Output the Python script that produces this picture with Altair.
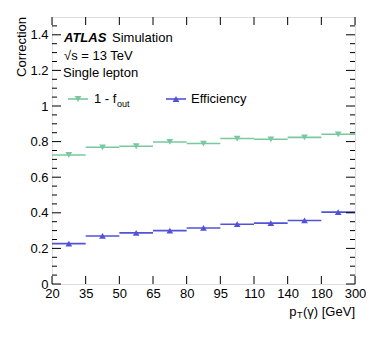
import altair as alt
import pandas as pd

# ---- data ----
edge_labels = ['20', '35', '50', '65', '80', '95', '110', '140', '180', '300']
fout_vals = [0.725, 0.768, 0.774, 0.798, 0.789, 0.817, 0.813, 0.824, 0.841]
eff_vals = [0.227, 0.270, 0.287, 0.300, 0.315, 0.336, 0.342, 0.357, 0.404]
series_names = ['1 - fout', 'Efficiency']
series_colors = ['#78c8a0', '#5252d8']
series_shapes = ['triangle-down', 'triangle-up']
y_major = [0.0, 0.2, 0.4, 0.6, 0.8, 1.0, 1.2, 1.4]
y_minor = [0.05, 0.1, 0.15, 0.25, 0.3, 0.35, 0.45, 0.5, 0.55, 0.65, 0.7, 0.75,
           0.85, 0.9, 0.95, 1.05, 1.1, 1.15, 1.25, 1.3, 1.35, 1.45]

W, H = 303, 267
FONT = 'Liberation Sans'

rows = []
for name, vals in zip(series_names, [fout_vals, eff_vals]):
    for i, v in enumerate(vals):
        rows.append(dict(series=name, lo=i, hi=i + 1, mid=i + 0.5, val=v))
df = pd.DataFrame(rows)

xs = alt.Scale(domain=[0, len(edge_labels) - 1], nice=False, zero=False)
ys = alt.Scale(domain=[0, 1.5], nice=False, zero=False)
label_expr = '[' + ','.join("'%s'" % l for l in edge_labels) + '][datum.value]'
x_axis = alt.Axis(values=list(range(len(edge_labels))), labelExpr=label_expr, ticks=False,
                  domain=False, grid=False, title=None, labelFlush=False, labelOverlap=False,
                  labelFontSize=13, labelColor='black', labelPadding=3, labelFont=FONT)
y_axis = alt.Axis(values=y_major, format='~g', ticks=False, domain=False, grid=False,
                  title=None, labelFontSize=13, labelColor='black', labelPadding=4,
                  labelFont=FONT, labelOverlap=False, labelFlush=False)
color = alt.Color('series:N', scale=alt.Scale(domain=series_names, range=series_colors), legend=None)
shape = alt.Shape('series:N', scale=alt.Scale(domain=series_names, range=series_shapes), legend=None)

base = alt.Chart(df)
segs = base.mark_rule(strokeWidth=1.6).encode(
    x=alt.X('lo:Q', scale=xs, axis=x_axis), x2='hi:Q',
    y=alt.Y('val:Q', scale=ys, axis=y_axis), color=color)
pts = base.mark_point(filled=True, size=45, opacity=1).encode(
    x=alt.X('mid:Q', scale=xs, axis=x_axis),
    y=alt.Y('val:Q', scale=ys, axis=y_axis), color=color, shape=shape)

# inward ticks
xt = pd.DataFrame({'e': list(range(len(edge_labels)))})
yM = pd.DataFrame({'v': y_major})
ym = pd.DataFrame({'v': y_minor})
tick_style = dict(color='black', strokeWidth=1)
xticks_b = alt.Chart(xt).mark_rule(**tick_style).encode(
    x=alt.X('e:Q', scale=xs, axis=x_axis), y=alt.value(H), y2=alt.value(H - 8))
xticks_t = alt.Chart(xt).mark_rule(**tick_style).encode(
    x=alt.X('e:Q', scale=xs, axis=x_axis), y=alt.value(0), y2=alt.value(8))
yt = []
for d, ln in [(yM, 9), (ym, 5)]:
    yt.append(alt.Chart(d).mark_rule(**tick_style).encode(
        y=alt.Y('v:Q', scale=ys, axis=y_axis), x=alt.value(0), x2=alt.value(ln)))
    yt.append(alt.Chart(d).mark_rule(**tick_style).encode(
        y=alt.Y('v:Q', scale=ys, axis=y_axis), x=alt.value(W), x2=alt.value(W - ln)))


def txt(s, x, y, size=13, align='left', baseline='middle', **kw):
    return alt.Chart(pd.DataFrame({'t': [s]})).mark_text(
        align=align, baseline=baseline, fontSize=size, font=FONT, color='black', **kw
    ).encode(x=alt.value(x), y=alt.value(y), text='t:N')


texts = [
    txt('ATLAS', 12, 21, fontWeight='bold', fontStyle='italic'),
    txt('Simulation', 60, 21),
    txt('√s = 13 TeV', 12, 39),
    txt('Single lepton', 11, 56),
    txt('1 - f', 42, 82),
    txt('out', 65, 87, size=9),
    txt('Efficiency', 139, 82),
    txt('(γ) [GeV]', W, 295, align='right'),
    txt('T', 245, 298, size=9),
    txt('p', 244.5, 295, align='right'),
    txt('Correction', -30.5, 0, align='right', angle=270),
]

legend_marks = []
for (x0, x1), c, s in zip([(16, 36), (114, 134)], series_colors, series_shapes):
    legend_marks.append(alt.Chart(pd.DataFrame({'a': [0]})).mark_rule(strokeWidth=1.6, color=c).encode(
        x=alt.value(x0), x2=alt.value(x1), y=alt.value(82)))
    legend_marks.append(alt.Chart(pd.DataFrame({'a': [0]})).mark_point(
        filled=True, size=45, opacity=1, color=c, shape=s).encode(
        x=alt.value((x0 + x1) / 2), y=alt.value(82)))

chart = alt.layer(segs, pts, xticks_b, xticks_t, *yt, *legend_marks, *texts).properties(
    width=W, height=H,
    autosize=alt.AutoSizeParams(type='none'),
    padding={'left': 44, 'top': 9, 'right': 11, 'bottom': 40},
).configure_view(stroke='black', strokeWidth=1).configure(background='white')

chart.save('out.html', embed_options={'renderer': 'svg', 'actions': False})
